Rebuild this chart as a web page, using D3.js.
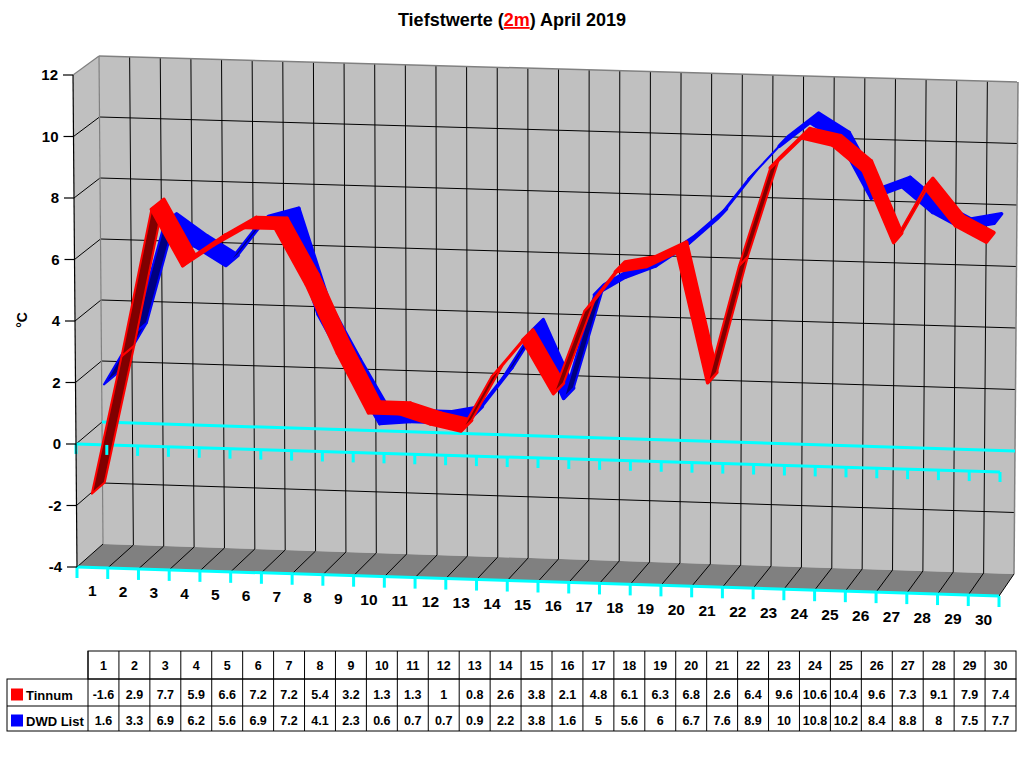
<!DOCTYPE html>
<html><head><meta charset="utf-8">
<script src="https://cdn.jsdelivr.net/npm/d3@7"></script>
<style>body{margin:0;background:#fff}svg{display:block;font-family:"Liberation Sans",Arial,sans-serif;font-weight:bold}</style>
</head><body><svg id="c" width="1024" height="768"></svg>
<script>
const days = d3.range(1, 31);
const tinnum = [-1.6,2.9,7.7,5.9,6.6,7.2,7.2,5.4,3.2,1.3,1.3,1,0.8,2.6,3.8,2.1,4.8,6.1,6.3,6.8,2.6,6.4,9.6,10.6,10.4,9.6,7.3,9.1,7.9,7.4];
const dwd    = [1.6,3.3,6.9,6.2,5.6,6.9,7.2,4.1,2.3,0.6,0.7,0.7,0.9,2.2,3.8,1.6,5,5.6,6,6.7,7.6,8.9,10,10.8,10.2,8.4,8.8,8,7.5,7.7];
const yTicks = [-4,-2,0,2,4,6,8,10,12];
const seriesNames = ["Tinnum", "DWD List"];
const seriesColors = ["#ff0000", "#0000ff"];
const seriesDark = ["#800000", "#000080"];

const svg = d3.select("#c");
const C = {
  f: {l: {t: [73, 75], b: [77, 567]}, r: {t: [1003, 100], b: [999, 596]}},
  k: {l: {t: [99, 56], b: [103, 544]}, r: {t: [1018, 82], b: [1014, 574]}}
};
const uScale = d3.scaleLinear().domain([0, 30]).range([0, 1]);
const tScale = d3.scaleLinear().domain([12, -4]).range([0, 1]);
const L = (a, b, s) => [a[0] + (b[0] - a[0]) * s, a[1] + (b[1] - a[1]) * s];
function plane(p, u, t) {
  const left = L(p.l.t, p.l.b, t), right = L(p.r.t, p.r.b, t);
  return L(left, right, u);
}
function proj(k, v, z) {
  const u = uScale(k), t = tScale(v);
  return L(plane(C.f, u, t), plane(C.k, u, t), z);
}
const line = d3.line();
function poly(pts, fill, stroke, sw) {
  svg.append("path").attr("d", line(pts) + "Z").attr("fill", fill)
    .attr("stroke", stroke || "none").attr("stroke-width", sw || 1).attr("stroke-linejoin", "round");
}
function seg(a, b, stroke, sw) {
  svg.append("path").attr("d", line([a, b])).attr("stroke", stroke).attr("stroke-width", sw).attr("fill", "none");
}

poly([proj(0,12,1), proj(30,12,1), proj(30,-4,1), proj(0,-4,1)], "#c0c0c0");
poly([proj(0,12,0), proj(0,12,1), proj(0,-4,1), proj(0,-4,0)], "#c0c0c0");
poly([proj(0,-4,0), proj(30,-4,0), proj(30,-4,1), proj(0,-4,1)], "#808080");
yTicks.filter(v => v > -4 && v < 12).forEach(v => {
  seg(proj(0,v,1), proj(30,v,1), "#000", 1);
  seg(proj(0,v,0), proj(0,v,1), "#000", 1);
});
d3.range(1, 30).forEach(k => seg(proj(k,12,1), proj(k,-4,1), "#000", 1));
d3.range(0, 31).forEach(k => seg(proj(k,-4,0), proj(k,-4,1), "#000", 1));
seg(proj(0,12,0), proj(0,12,1), "#808080", 1.2);
seg(proj(0,12,1), proj(30,12,1), "#808080", 1.5);
seg(proj(30,12,1), proj(30,-4,1), "#808080", 1.5);
seg(proj(0,12,1), proj(0,-4,1), "#808080", 1.2);
seg(proj(0,0,1), proj(30,0,1), "#00ffff", 3);
seg(proj(0,0,0), proj(30,0,0), "#00ffff", 3);

function ribbon(vals, z0, z1, col, dark) {
  for (let i = 0; i < vals.length - 1; i++) {
    const A = proj(i + 0.5, vals[i], z0), B = proj(i + 1.5, vals[i+1], z0);
    const Cc = proj(i + 1.5, vals[i+1], z1), D = proj(i + 0.5, vals[i], z1);
    const cross = (B[0]-A[0])*(D[1]-A[1]) - (B[1]-A[1])*(D[0]-A[0]);
    const under = cross > 0;
    poly([A, B, Cc, D], under ? dark : col, col, under ? 2 : 3.5);
  }
}
ribbon(dwd, 0.5, 1, seriesColors[1], seriesDark[1]);
ribbon(tinnum, 0, 0.5, seriesColors[0], seriesDark[0]);

d3.range(0, 31).forEach(k => {
  const a = proj(k, 0, 0); seg([a[0], a[1]], [a[0], a[1] + 10], "#00ffff", 3);
});
seg(proj(0,-4,0), proj(30,-4,0), "#00ffff", 3);
d3.range(0, 31).forEach(k => {
  const a = proj(k, -4, 0); seg([a[0], a[1]], [a[0], a[1] + 11], "#00ffff", 3);
});

seg(proj(0,12,0), proj(0,-4,0), "#000", 1.2);
yTicks.forEach(v => {
  const a = proj(0, v, 0);
  seg([a[0] - 10, a[1]], a, "#000", 1.2);
  svg.append("text").attr("x", a[0] - 15).attr("y", a[1]).attr("dy", "0.36em")
    .attr("text-anchor", "end").attr("font-size", 15).text(v);
});
svg.append("text").attr("transform", "translate(27,320) rotate(-90)").attr("text-anchor", "middle")
  .attr("font-size", 14).text("°C");
days.forEach((d, i) => {
  const a = proj(i + 0.5, -4, 0);
  svg.append("text").attr("x", a[0]).attr("y", a[1] + 29).attr("text-anchor", "middle")
    .attr("font-size", 15.5).text(d);
});

const title = svg.append("text").attr("x", 512).attr("y", 26).attr("text-anchor", "middle").attr("font-size", 18);
title.append("tspan").text("Tiefstwerte (");
title.append("tspan").attr("fill", "#ff0000").style("text-decoration", "underline").text("2m");
title.append("tspan").text(") April 2019");

const tx0 = 7, cx0 = 88, cx1 = 1016, cw = (cx1 - cx0) / 30;
const rowsY = [651, 679, 706, 731];
const g = svg.append("g");
g.append("rect").attr("x", cx0).attr("y", rowsY[0]).attr("width", cx1 - cx0).attr("height", rowsY[1] - rowsY[0])
  .attr("fill", "none").attr("stroke", "#000");
g.append("rect").attr("x", tx0).attr("y", rowsY[1]).attr("width", cx1 - tx0).attr("height", rowsY[3] - rowsY[1])
  .attr("fill", "none").attr("stroke", "#000");
seg([tx0, rowsY[2]], [cx1, rowsY[2]], "#000", 1);
d3.range(0, 30).forEach(j => seg([cx0 + j * cw, rowsY[0]], [cx0 + j * cw, rowsY[3]], "#000", 1));
days.forEach((d, j) => {
  g.append("text").attr("x", cx0 + (j + 0.5) * cw).attr("y", (rowsY[0] + rowsY[1]) / 2 + 4.5)
    .attr("text-anchor", "middle").attr("font-size", 12.5).text(d);
});
[tinnum, dwd].forEach((vals, r) => {
  const cy = (rowsY[r + 1] + rowsY[r + 2]) / 2 + 2;
  g.append("rect").attr("x", 11).attr("y", cy - 6).attr("width", 12).attr("height", 12).attr("fill", seriesColors[r]);
  g.append("text").attr("x", 26).attr("y", cy + 5).attr("font-size", 13).text(seriesNames[r]);
  vals.forEach((v, j) => {
    g.append("text").attr("x", cx0 + (j + 0.5) * cw).attr("y", cy + 4.5)
      .attr("text-anchor", "middle").attr("font-size", 12.5).text(v);
  });
});
</script></body></html>
